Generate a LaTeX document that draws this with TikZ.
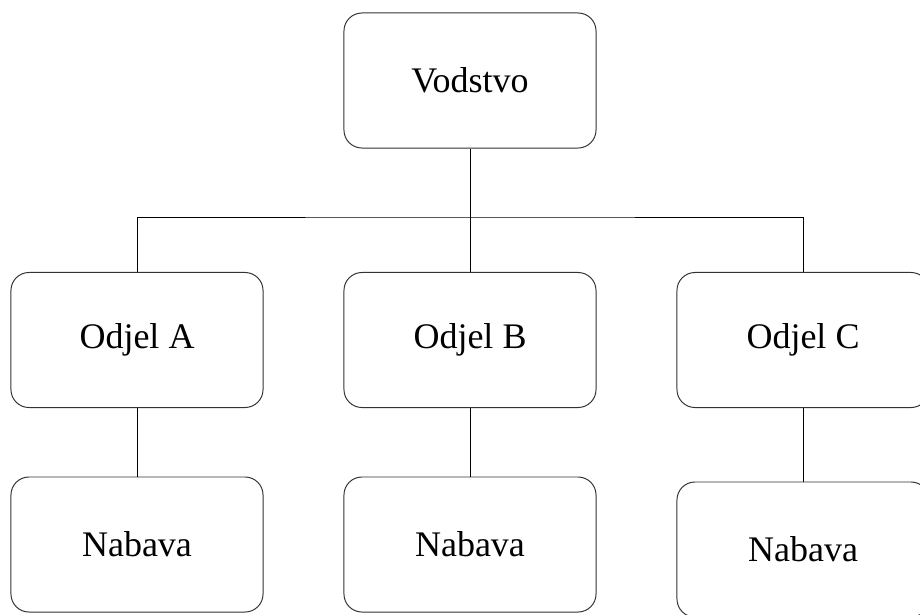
\documentclass[tikz,border=0pt]{standalone}
\usepackage{fontspec}
\setmainfont{Liberation Serif}
\begin{document}
\begin{tikzpicture}[x=0.025cm, y=-0.025cm,
		box/.style={draw=black!80, line width=0.7pt, rounded corners=0.45cm, minimum width=6.3cm, minimum height=3.375cm, font=\fontsize{25.6}{30}\selectfont},
		link/.style={draw=black, line width=0.7pt}]
			\useasboundingbox (0,0) rectangle (920,614);
			\clip (0,0) rectangle (920,614);
			\node[box] (vodstvo) at (470,80.5) {Vodstvo};
			\node[box] (odjA) at (137,340) {Odjel A};
			\node[box] (odjB) at (470,340) {Odjel B};
			\node[box] (odjC) at (803,340) {Odjel C};
			\node[box] (nabA) at (137,544.5) {Nabava};
			\node[box] (nabB) at (470,544.5) {Nabava};
			\node[box] (nabC) at (803,549.5) {Nabava};
			\coordinate (bus) at (470,217);
			\draw[link] (vodstvo.south) -- (bus);
			\draw[link] (odjA.north) |- (bus) -| (odjC.north);
			\draw[link] (bus) -- (odjB.north);
			\draw[link] (odjA.south) -- (nabA.north);
			\draw[link] (odjB.south) -- (nabB.north);
			\draw[link] (odjC.south) -- (nabC.north);
		\end{tikzpicture}
\end{document}
